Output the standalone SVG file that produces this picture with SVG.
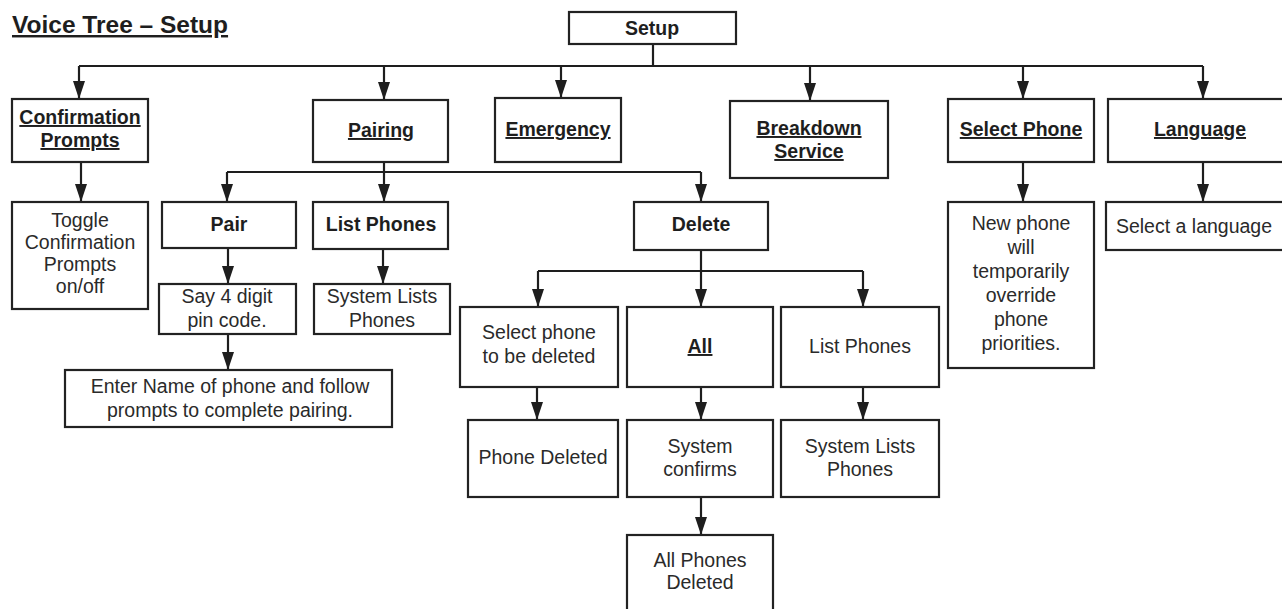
<svg xmlns="http://www.w3.org/2000/svg" width="1282" height="609" viewBox="0 0 1282 609">
<style>
  .box { fill: #ffffff; stroke: #222; stroke-width: 2.2; }
  .t { font-family: "Liberation Sans", Arial, sans-serif; font-size: 19.5px; fill: #2a2a2a; text-anchor: middle; }
  .b { font-weight: bold; font-size: 19.5px; fill: #1e1e1e; }
  .u { text-decoration: underline; }
  .title { font-family: "Liberation Sans", Arial, sans-serif; font-size: 24.5px; font-weight: bold; fill: #1e1e1e; text-decoration: underline; }
  .c { fill: none; stroke: #1e1e1e; stroke-width: 2.2; }
  .a { marker-end: url(#ah); }
</style>
<defs>
  <marker id="ah" markerUnits="userSpaceOnUse" markerWidth="18" markerHeight="12" viewBox="0 0 18 12" refX="18" refY="6" orient="auto">
    <path d="M0,0 L18,6 L0,12 z" fill="#1e1e1e"/>
  </marker>
</defs>
<rect width="1282" height="609" fill="#ffffff"/>
<text class="title" x="12" y="33">Voice Tree – Setup</text>

<g id="connectors">
  <path class="c" d="M653,44 V66"/>
  <path class="c" d="M79,66 H1203"/>
  <path class="c a" d="M79,66 V99"/>
  <path class="c a" d="M384,66 V100"/>
  <path class="c a" d="M561,66 V98"/>
  <path class="c a" d="M810,66 V101"/>
  <path class="c a" d="M1023,66 V99"/>
  <path class="c a" d="M1203,66 V99"/>
  <path class="c a" d="M81,162 V202"/>
  <path class="c" d="M384,162 V172"/>
  <path class="c" d="M227,172 H701"/>
  <path class="c a" d="M227,172 V202"/>
  <path class="c a" d="M384,172 V202"/>
  <path class="c a" d="M701,172 V202"/>
  <path class="c a" d="M228,248 V284"/>
  <path class="c a" d="M383,249 V284"/>
  <path class="c a" d="M228,334 V370"/>
  <path class="c" d="M701,250 V271"/>
  <path class="c" d="M538,271 H863"/>
  <path class="c a" d="M538,271 V307"/>
  <path class="c a" d="M701,271 V307"/>
  <path class="c a" d="M863,271 V307"/>
  <path class="c a" d="M537,387 V420"/>
  <path class="c a" d="M701,387 V420"/>
  <path class="c a" d="M863,387 V420"/>
  <path class="c a" d="M701,497 V535"/>
  <path class="c a" d="M1023,162 V202"/>
  <path class="c a" d="M1203,162 V202"/>
</g>

<g id="setup"><rect class="box" x="569" y="12" width="167" height="32"/><text class="t b" x="652" y="35">Setup</text></g>
<g id="confirmation"><rect class="box" x="12" y="99" width="136" height="63"/><text class="t b u" x="80" y="124">Confirmation</text><text class="t b u" x="80" y="147">Prompts</text></g>
<g id="pairing"><rect class="box" x="313" y="100" width="135" height="62"/><text class="t b u" x="381" y="137">Pairing</text></g>
<g id="emergency"><rect class="box" x="495" y="98" width="126" height="64"/><text class="t b u" x="558" y="136">Emergency</text></g>
<g id="breakdown"><rect class="box" x="730" y="101" width="158" height="77"/><text class="t b u" x="809" y="135">Breakdown</text><text class="t b u" x="809" y="158">Service</text></g>
<g id="selectphone"><rect class="box" x="948" y="99" width="146" height="63"/><text class="t b u" x="1021" y="136">Select Phone</text></g>
<g id="language"><rect class="box" x="1108" y="99" width="184" height="63"/><text class="t b u" x="1200" y="136">Language</text></g>

<g id="toggle"><rect class="box" x="12" y="202" width="136" height="107"/><text class="t" x="80" y="227">Toggle</text><text class="t" x="80" y="249">Confirmation</text><text class="t" x="80" y="271">Prompts</text><text class="t" x="80" y="293">on/off</text></g>
<g id="pair"><rect class="box" x="162" y="202" width="134" height="46"/><text class="t b" x="229" y="231">Pair</text></g>
<g id="listphones"><rect class="box" x="313" y="202" width="135" height="47"/><text class="t b" x="381" y="231">List Phones</text></g>
<g id="pincode"><rect class="box" x="159" y="284" width="137" height="50"/><text class="t" x="227" y="303">Say 4 digit</text><text class="t" x="227" y="327">pin code.</text></g>
<g id="systemlists1"><rect class="box" x="314" y="284" width="136" height="50"/><text class="t" x="382" y="303">System Lists</text><text class="t" x="382" y="327">Phones</text></g>
<g id="entername"><rect class="box" x="65" y="370" width="327" height="57"/><text class="t" x="230" y="393">Enter Name of phone and follow</text><text class="t" x="230" y="417">prompts to complete pairing.</text></g>
<g id="delete"><rect class="box" x="634" y="202" width="134" height="48"/><text class="t b" x="701" y="231">Delete</text></g>
<g id="selectdel"><rect class="box" x="460" y="307" width="158" height="80"/><text class="t" x="539" y="339">Select phone</text><text class="t" x="539" y="363">to be deleted</text></g>
<g id="all"><rect class="box" x="627" y="307" width="146" height="80"/><text class="t b u" x="700" y="353">All</text></g>
<g id="listphones2"><rect class="box" x="781" y="307" width="158" height="80"/><text class="t" x="860" y="353">List Phones</text></g>
<g id="phonedeleted"><rect class="box" x="468" y="420" width="150" height="77"/><text class="t" x="543" y="464">Phone Deleted</text></g>
<g id="confirms"><rect class="box" x="627" y="420" width="146" height="77"/><text class="t" x="700" y="453">System</text><text class="t" x="700" y="476">confirms</text></g>
<g id="systemlists2"><rect class="box" x="781" y="420" width="158" height="77"/><text class="t" x="860" y="453">System Lists</text><text class="t" x="860" y="476">Phones</text></g>
<g id="allphones"><rect class="box" x="627" y="535" width="146" height="85"/><text class="t" x="700" y="567">All Phones</text><text class="t" x="700" y="589">Deleted</text></g>
<g id="newphone"><rect class="box" x="948" y="202" width="146" height="166"/><text class="t" x="1021" y="230">New phone</text><text class="t" x="1021" y="254">will</text><text class="t" x="1021" y="278">temporarily</text><text class="t" x="1021" y="302">override</text><text class="t" x="1021" y="326">phone</text><text class="t" x="1021" y="350">priorities.</text></g>
<g id="selectlang"><rect class="box" x="1106" y="202" width="186" height="48"/><text class="t" x="1194" y="233">Select a language</text></g>
</svg>
